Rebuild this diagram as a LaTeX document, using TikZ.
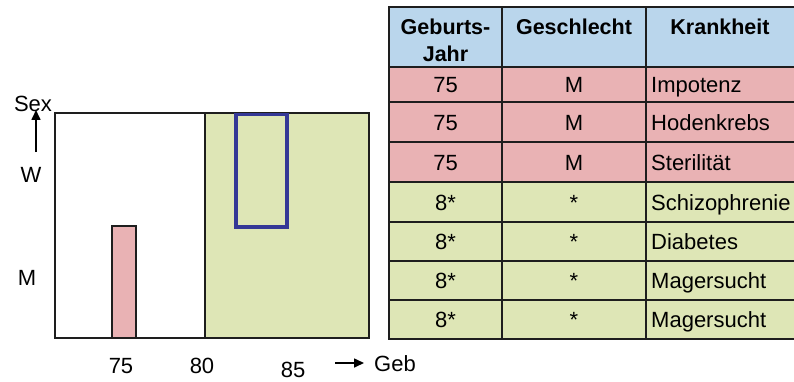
\documentclass[tikz,border=0pt]{standalone}
\usepackage{fontspec}
\setmainfont{Liberation Sans}
\usetikzlibrary{arrows.meta}
\definecolor{hdrblue}{RGB}{186,214,236}
\definecolor{rowpink}{RGB}{233,178,180}
\definecolor{rowgreen}{RGB}{222,230,182}
\definecolor{boxblue}{RGB}{52,56,150}
\definecolor{gridline}{RGB}{30,30,30}
\tikzset{
  lbl/.style={inner sep=0pt, font=\fontsize{22}{27}\selectfont},
  hdrtext/.style={lbl, font=\fontsize{21.5}{27}\selectfont\bfseries, align=center, anchor=north},
  celltext/.style={lbl, anchor=base},
  celltextleft/.style={lbl, anchor=base west},
  frame/.style={draw=gridline, line width=2pt},
  tablerule/.style={draw=gridline, line width=2pt},
  axisarrow/.style={-{Triangle[length=10pt,width=9pt]}, line width=1.6pt}
}
\begin{document}
\begin{tikzpicture}[x=1pt,y=-1pt]
\useasboundingbox (0,0) rectangle (794,381);

% ---------- chart: birth year vs. sex ----------
\fill[rowgreen] (205,113) rectangle (369,338);
\draw[frame] (55,113) rectangle (369,338);
\draw[frame] (205,113) -- (205,338);
\filldraw[fill=rowpink, frame] (112,226) rectangle (136,338);
\draw[boxblue, line width=3.2pt] (236,114.5) rectangle (287,227);

\node[lbl] (sex) at (33,104) {Sex};
\coordinate (sexfoot) at (36,152);
\draw[axisarrow] (sexfoot) -- ([yshift=2pt]sex.south -| sexfoot);
\node[lbl] (w) at (31,175) {W};
\node[lbl] (m) at (27,278) {M};

\node[lbl] (t75) at (121,366) {75};
\node[lbl] (t80) at (202,366) {80};
\node[lbl] (t85) at (293,370) {85};
\node[lbl, anchor=west] (geb) at (374,364) {Geb};
\coordinate (gebtail) at (335,363);
\draw[axisarrow] (gebtail) -- ([xshift=-10pt]geb.west |- gebtail);

% ---------- table ----------
\fill[hdrblue]  (389,7)   rectangle (794,67);
\fill[rowpink]  (389,67)  rectangle (794,182);
\fill[rowgreen] (389,182) rectangle (794,339);

\foreach \yy in {7,67,102,142,182,222,261,300,339}
  \draw[tablerule] (388,\yy) -- (794,\yy);
\foreach \xx in {389,502,646}
  \draw[tablerule] (\xx,7) -- (\xx,339);

\node[hdrtext] (hjahr) at (445.5,18.5) {Geburts-\\Jahr};
\node[hdrtext] (hsex)  at (574,18.5) {Geschlecht};
\node[hdrtext] (hkr)   at (720,18.5) {Krankheit};

\foreach \i/\yc/\jahr/\gs/\kr in {
  0/84.5/75/M/Impotenz,
  1/122/75/M/Hodenkrebs,
  2/162/75/M/Sterilität,
  3/202/8*/*/Schizophrenie,
  4/241.5/8*/*/Diabetes,
  5/280.5/8*/*/Magersucht,
  6/319.5/8*/*/Magersucht}{
  \node[celltext] (j\i) at (445.5,\yc+8) {\jahr};
  \node[celltext] (g\i) at (574,\yc+8) {\gs};
  \node[celltextleft] (k\i) at (651,\yc+8) {\kr};
}
\end{tikzpicture}
\end{document}
